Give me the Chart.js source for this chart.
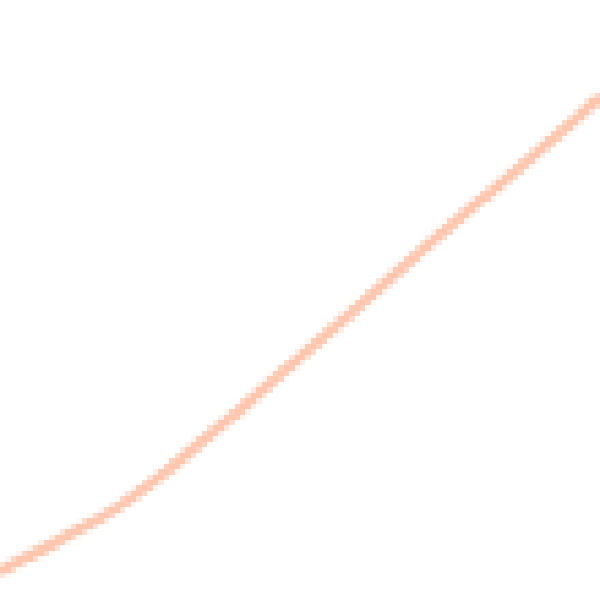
<!DOCTYPE html>
<html>
<head>
<meta charset="utf-8">
<script src="https://cdn.jsdelivr.net/npm/chart.js@4/dist/chart.umd.min.js"></script>
<style>
  html, body { margin: 0; padding: 0; background: #fff; }
  #c {
    display: block;
    width: 600px !important;
    height: 600px !important;
    image-rendering: pixelated;
  }
</style>
</head>
<body>
<canvas id="c" width="110" height="110"></canvas>
<script>
// x positions and curve values (0-100 range on both axes)
const xValues = [0, 10, 20, 30, 40, 50, 60, 70, 80, 90, 100];
const yValues = [4.7, 10, 15.7, 23.3, 31.7, 40.5, 49.2, 58, 66.5, 75, 83.8];

const points = xValues.map((x, i) => ({ x: x, y: yValues[i] }));

const ctx = document.getElementById("c").getContext("2d");

new Chart(ctx, {
  type: "line",
  data: {
    datasets: [
      {
        data: points,
        borderColor: "rgba(255, 160, 122, 0.6)",
        borderWidth: 2,
        pointRadius: 0,
        tension: 0.4,
        fill: false,
      },
    ],
  },
  options: {
    responsive: false,
    animation: false,
    devicePixelRatio: 1,
    layout: { padding: 0 },
    scales: {
      x: { type: "linear", min: 0, max: 100, display: false },
      y: { min: 0, max: 100, display: false },
    },
    plugins: {
      legend: { display: false },
      tooltip: { enabled: false },
    },
  },
});
</script>
</body>
</html>
